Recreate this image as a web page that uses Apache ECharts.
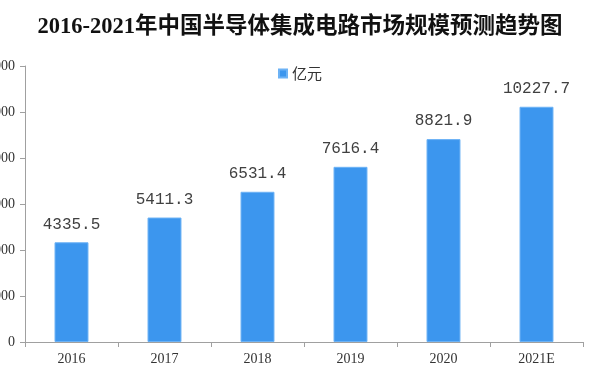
<!DOCTYPE html>
<html><head><meta charset="utf-8">
<script src="https://cdn.jsdelivr.net/npm/echarts@6/dist/echarts.min.js"></script>
<style>html,body{margin:0;padding:0;background:#fff}#c{width:600px;height:377px}</style>
</head><body><div id="c"></div>
<script>
const categories = ['2016','2017','2018','2019','2020','2021E'];
const values = [4335.5, 5411.3, 6531.4, 7616.4, 8821.9, 10227.7];
const labels = ['4335.5','5411.3','6531.4','7616.4','8821.9','10227.7'];
const seriesName = '亿元';
const titleText = '2016-2021年中国半导体集成电路市场规模预测趋势图';

const chart = echarts.init(document.getElementById('c'));
chart.setOption({
  animation: false,
  backgroundColor: '#fff',
  title: {
    text: titleText, left: 'center', top: 11,
    textStyle: {fontFamily: 'Liberation Serif, Noto Sans CJK SC', fontWeight: 'bold', fontSize: 22.5, color: '#111'}
  },
  legend: {
    top: 61, left: 'center', icon: 'rect', itemWidth: 8, itemHeight: 8, itemGap: 4,
    textStyle: {fontFamily: 'Noto Sans CJK SC', fontSize: 15, color: '#333'}
  },
  grid: {left: 25, right: 17, top: 66, bottom: 35, containLabel: false, outerBoundsMode: 'none'},
  xAxis: {
    type: 'category', data: categories,
    axisLine: {lineStyle: {color: '#a0a0a0'}},
    axisTick: {show: true, length: 5, lineStyle: {color: '#a0a0a0'}},
    axisLabel: {fontFamily: 'Liberation Serif', fontSize: 14, color: '#333', margin: 10}
  },
  yAxis: {
    type: 'value', min: 0, max: 12000, interval: 2000,
    axisLine: {show: true, lineStyle: {color: '#a0a0a0'}},
    axisTick: {show: true, length: 5, lineStyle: {color: '#a0a0a0'}},
    splitLine: {show: false},
    axisLabel: {fontFamily: 'Liberation Serif', fontSize: 14, color: '#333', margin: 10, formatter: v => String(v)}
  },
  series: [{
    name: seriesName, type: 'bar', data: values, barWidth: '36.5%',
    itemStyle: {color: '#3c96ee', borderColor: '#6cb2f5', borderWidth: 1},
    label: {
      show: true, position: 'top', distance: 10,
      formatter: p => labels[p.dataIndex],
      fontFamily: 'Liberation Mono', fontSize: 16, color: '#404040'
    }
  }]
});
</script></body></html>
